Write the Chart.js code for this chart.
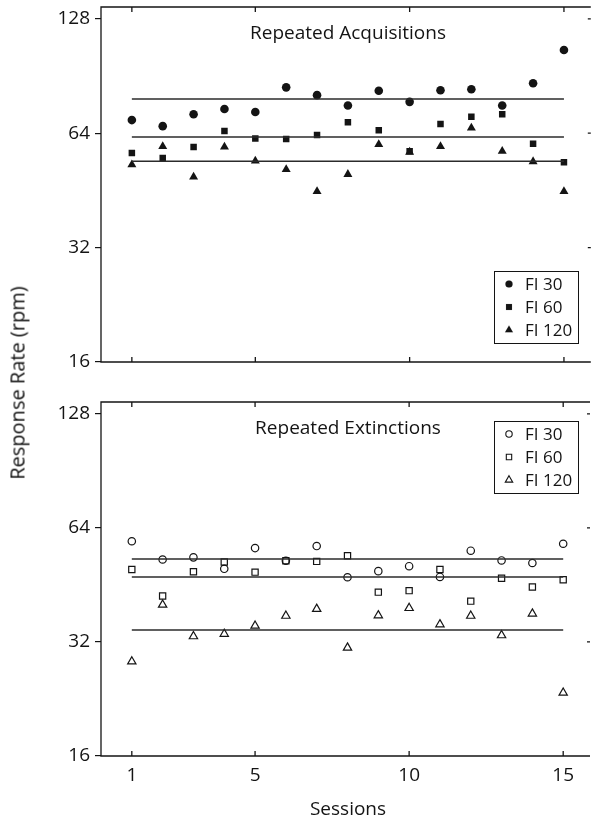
<!DOCTYPE html>
<html>
<head>
<meta charset="utf-8">
<script src="https://cdn.jsdelivr.net/npm/chart.js@4.4.1/dist/chart.umd.min.js"></script>
<style>
html, body { margin: 0; padding: 0; background: #fff; overflow: hidden; width: 591px; height: 821px; }
.panel { position: absolute; left: 0; width: 596px; }
#topWrap { top: 0; height: 372px; }
#botWrap { top: 395px; height: 426px; }
#ylab { position: absolute; left: 17px; top: 383px; transform: translate(-50%, -50%) rotate(-90deg);
        font: 20px "Open Sans"; color: #111; white-space: nowrap; }
</style>
</head>
<body>
<div class="panel" id="topWrap"><canvas id="topChart"></canvas></div>
<div class="panel" id="botWrap"><canvas id="botChart"></canvas></div>
<div id="ylab">Response Rate (rpm)</div>
<script>
var sessions = [1, 2, 3, 4, 5, 6, 7, 8, 9, 10, 11, 12, 13, 14, 15];
var seriesNames = ['FI 30', 'FI 60', 'FI 120'];
var yTicks = [16, 32, 64, 128];
var xTicks = [1, 5, 10, 15];

// Repeated Acquisitions (filled markers)
var acqFI30  = [69.3, 66.8, 71.8, 74.1, 72.8, 84.5, 80.6, 75.7, 82.8, 77.4, 83.0, 83.5, 75.7, 86.6, 106.0];
var acqFI60  = [56.8, 55.1, 58.9, 64.9, 62.0, 61.8, 63.3, 68.4, 65.2, 57.4, 67.7, 70.7, 71.8, 60.0, 53.7];
var acqFI120 = [52.9, 59.1, 49.1, 58.9, 54.1, 51.4, 45.0, 49.9, 59.8, 57.1, 59.1, 66.1, 57.4, 53.9, 45.0];
var acqMeans = [78.7, 62.5, 54.0];

// Repeated Extinctions (open markers)
var extFI30  = [59.0, 52.8, 53.5, 49.9, 56.6, 52.4, 57.3, 47.4, 49.2, 50.7, 47.5, 55.7, 52.5, 51.7, 58.1];
var extFI60  = [49.7, 42.3, 49.0, 52.0, 48.9, 52.4, 52.2, 54.0, 43.3, 43.7, 49.7, 41.0, 47.1, 44.7, 46.7];
var extFI120 = [28.4, 40.1, 33.1, 33.6, 35.3, 37.5, 39.1, 30.9, 37.6, 39.3, 35.6, 37.5, 33.3, 38.0, 23.5];
var extMeans = [53.0, 47.5, 34.4];

var INK = '#141414';
var FONT = '"Open Sans"';
var styles = ['circle', 'rect', 'triangle'];

function pts(arr) {
    return sessions.map(function(s, i) { return { x: s, y: arr[i] }; });
}

function noPad(s) {
    s.paddingTop = 0; s.paddingBottom = 0; s.paddingLeft = 0; s.paddingRight = 0;
}

var framePlugin = {
    id: 'frame',
    afterDraw: function(chart, args, opts) {
        var ctx = chart.ctx, a = chart.chartArea;
        var xs = chart.scales.x, ys = chart.scales.y;
        ctx.save();
        ctx.strokeStyle = INK;
        ctx.lineWidth = 1.3;
        ctx.beginPath();
        // open on the right: the right-hand axis sits at the page edge
        ctx.moveTo(a.right, a.top); ctx.lineTo(a.left, a.top);
        ctx.lineTo(a.left, a.bottom); ctx.lineTo(a.right, a.bottom);
        xTicks.forEach(function(v) {
            var px = xs.getPixelForValue(v);
            ctx.moveTo(px, a.top); ctx.lineTo(px, a.top + 5);
            ctx.moveTo(px, a.bottom); ctx.lineTo(px, a.bottom - 5);
        });
        yTicks.forEach(function(v) {
            var py = ys.getPixelForValue(v);
            ctx.moveTo(a.right, py); ctx.lineTo(a.right - 3, py);
        });
        ctx.stroke();

        // panel title
        ctx.fillStyle = INK;
        ctx.font = '19px ' + FONT;
        ctx.textAlign = 'center';
        ctx.textBaseline = 'alphabetic';
        ctx.fillText(opts.title, 348, a.top + 32);

        // legend box
        var bx = 494, by = a.top + opts.legendTop, bw = 84, bh = 72;
        ctx.lineWidth = 1;
        ctx.strokeRect(bx + 0.5, by + 0.5, bw, bh);
        ctx.textAlign = 'left';
        ctx.font = '17px ' + FONT;
        seriesNames.forEach(function(name, i) {
            var cy = by + 13 + i * 23;
            ctx.fillStyle = opts.filled ? INK : 'rgba(0,0,0,0)';
            ctx.strokeStyle = INK;
            ctx.lineWidth = opts.filled ? 0.1 : 1.1;
            Chart.helpers.drawPoint(ctx, { pointStyle: styles[i], radius: opts.legendR[i], rotation: 0, borderWidth: ctx.lineWidth }, bx + 15, cy);
            ctx.fillStyle = INK;
            ctx.fillText(name, bx + 31, cy + 6);
        });

        if (opts.xTitle) {
            ctx.textAlign = 'center';
            ctx.font = '19px ' + FONT;
            ctx.fillText(opts.xTitle, 348, a.bottom + 59);
        }
        ctx.restore();
    }
};

function makePanel(id, title, series, means, filled, showX, axisH, legendTop) {
    var datasets = [];
    means.forEach(function(m) {
        datasets.push({
            type: 'line',
            data: [{ x: 1, y: m }, { x: 15, y: m }],
            borderColor: '#2b2b2b', borderWidth: 1.5,
            pointRadius: 0, fill: false
        });
    });
    var radii = filled ? [4.3, 4.6, 5.2] : [3.7, 4.4, 4.8];
    series.forEach(function(arr, i) {
        datasets.push({
            label: seriesNames[i],
            data: pts(arr),
            pointStyle: styles[i],
            pointRadius: radii[i],
            backgroundColor: filled ? INK : 'rgba(0,0,0,0)',
            borderColor: INK,
            borderWidth: filled ? 0 : 1.2,
            showLine: false
        });
    });

    return new Chart(document.getElementById(id), {
        type: 'scatter',
        data: { datasets: datasets },
        options: {
            responsive: true,
            maintainAspectRatio: false,
            animation: false,
            layout: { padding: { top: 7, right: 0, left: 0, bottom: 0 } },
            plugins: {
                legend: { display: false },
                tooltip: { enabled: false },
                frame: {
                    title: title, filled: filled, legendTop: legendTop,
                    legendR: filled ? [3.6, 4.2, 4.6] : [3.2, 3.8, 4.3],
                    xTitle: showX ? 'Sessions' : null
                }
            },
            scales: {
                x: {
                    type: 'linear', min: 0, max: 15.87,
                    afterFit: function(s) { s.height = axisH; noPad(s); },
                    afterBuildTicks: function(s) { s.ticks = xTicks.map(function(v) { return { value: v }; }); },
                    grid: { display: false, drawTicks: false },
                    border: { display: false },
                    ticks: {
                        display: showX, autoSkip: false, maxRotation: 0, padding: 8,
                        color: INK, font: { family: FONT, size: 19 },
                        callback: function(v) { return String(v); }
                    }
                },
                y: {
                    type: 'logarithmic', min: 16, max: 137.5,
                    afterFit: function(s) { s.width = 101; noPad(s); },
                    afterBuildTicks: function(s) { s.ticks = yTicks.map(function(v) { return { value: v }; }); },
                    grid: { display: true, drawOnChartArea: false, drawTicks: true, tickLength: 6, color: INK, lineWidth: 1.2 },
                    border: { display: false },
                    ticks: {
                        autoSkip: false, padding: 5,
                        color: INK, font: { family: FONT, size: 19 },
                        callback: function(v) { return String(v); }
                    }
                }
            }
        },
        plugins: [framePlugin]
    });
}

makePanel('topChart', 'Repeated Acquisitions', [acqFI30, acqFI60, acqFI120], acqMeans, true, false, 10, 264);
makePanel('botChart', 'Repeated Extinctions', [extFI30, extFI60, extFI120], extMeans, false, true, 65, 19);
</script>
</body>
</html>
